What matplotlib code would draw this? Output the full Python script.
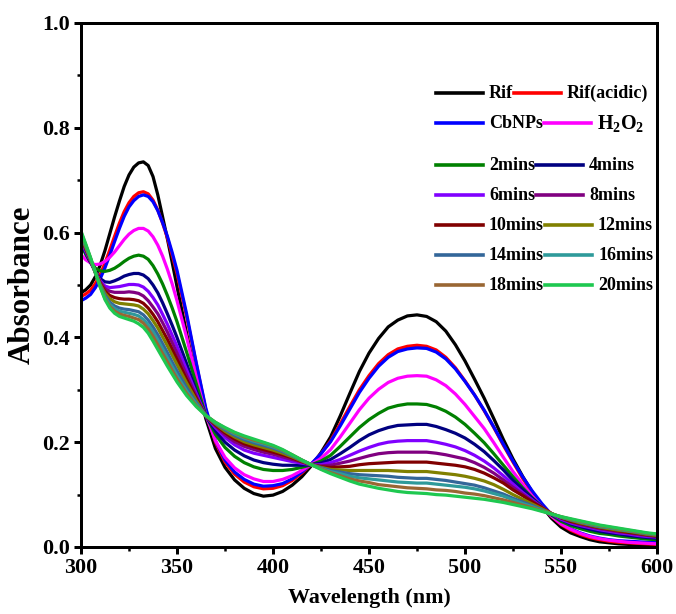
import numpy as np
import matplotlib
matplotlib.use("Agg")
import matplotlib.pyplot as plt
from matplotlib.lines import Line2D
from matplotlib.offsetbox import DrawingArea, TextArea, HPacker, VPacker, AnchoredOffsetbox
from matplotlib.ticker import MultipleLocator, FormatStrFormatter

plt.rcParams['font.family'] = 'Liberation Serif'
plt.rcParams['font.weight'] = 'bold'
plt.rcParams['mathtext.fontset'] = 'custom'
plt.rcParams['mathtext.rm'] = 'Liberation Serif:bold'
plt.rcParams['mathtext.it'] = 'Liberation Serif:bold'
plt.rcParams['mathtext.bf'] = 'Liberation Serif:bold'

# UV-Vis spectra: 2.5 nm steps up to 350 nm (sharp band), 5 nm steps after
wavelength = np.concatenate([np.arange(300, 350, 2.5), np.arange(350, 601, 5)])

rif = [0.485, 0.491, 0.500, 0.516, 0.538, 0.566, 0.598, 0.630, 0.660, 0.688,
       0.710, 0.725, 0.733, 0.735, 0.728, 0.707, 0.672, 0.630, 0.588, 0.543,
       0.497, 0.408, 0.322, 0.245, 0.188, 0.152, 0.128, 0.112, 0.102, 0.097,
       0.099, 0.106, 0.118, 0.134, 0.155, 0.180, 0.210, 0.250, 0.293, 0.335,
       0.370, 0.398, 0.420, 0.433, 0.441, 0.443, 0.440, 0.430, 0.412, 0.386,
       0.355, 0.320, 0.284, 0.245, 0.205, 0.168, 0.135, 0.105, 0.078, 0.055,
       0.038, 0.027, 0.020, 0.014, 0.010, 0.008, 0.006, 0.005, 0.004, 0.003, 0.003]
rif_acidic = [0.478, 0.483, 0.490, 0.503, 0.520, 0.542, 0.567, 0.593, 0.618, 0.640,
              0.657, 0.669, 0.676, 0.678, 0.674, 0.662, 0.643, 0.618, 0.590, 0.557,
              0.522, 0.440, 0.350, 0.262, 0.200, 0.162, 0.139, 0.124, 0.115, 0.111,
              0.112, 0.117, 0.127, 0.141, 0.158, 0.178, 0.203, 0.235, 0.268, 0.300,
              0.327, 0.350, 0.367, 0.378, 0.383, 0.385, 0.383, 0.376, 0.362, 0.342,
              0.317, 0.290, 0.260, 0.228, 0.194, 0.162, 0.131, 0.104, 0.080, 0.059,
              0.043, 0.032, 0.024, 0.018, 0.014, 0.011, 0.009, 0.008, 0.007, 0.006, 0.005]
cbnps = [0.470, 0.475, 0.482, 0.495, 0.512, 0.533, 0.557, 0.583, 0.608, 0.631,
         0.649, 0.661, 0.669, 0.672, 0.669, 0.659, 0.642, 0.619, 0.593, 0.562,
         0.528, 0.445, 0.352, 0.265, 0.203, 0.166, 0.143, 0.129, 0.120, 0.116,
         0.117, 0.121, 0.130, 0.143, 0.159, 0.178, 0.201, 0.231, 0.263, 0.295,
         0.322, 0.345, 0.362, 0.373, 0.378, 0.380, 0.379, 0.372, 0.359, 0.340,
         0.316, 0.290, 0.261, 0.229, 0.196, 0.164, 0.134, 0.107, 0.083, 0.062,
         0.046, 0.035, 0.027, 0.021, 0.017, 0.014, 0.012, 0.011, 0.010, 0.009, 0.009]
h2o2 = [0.558, 0.548, 0.542, 0.539, 0.540, 0.545, 0.553, 0.563, 0.575, 0.587,
        0.597, 0.604, 0.608, 0.608, 0.603, 0.592, 0.576, 0.555, 0.530, 0.502,
        0.470, 0.400, 0.325, 0.252, 0.203, 0.171, 0.151, 0.138, 0.130, 0.125,
        0.125, 0.129, 0.136, 0.146, 0.158, 0.169, 0.186, 0.210, 0.236, 0.262,
        0.284, 0.301, 0.314, 0.322, 0.326, 0.327, 0.326, 0.319, 0.308, 0.292,
        0.272, 0.249, 0.226, 0.199, 0.171, 0.144, 0.120, 0.097, 0.077, 0.059,
        0.044, 0.034, 0.026, 0.020, 0.016, 0.013, 0.011, 0.009, 0.008, 0.007, 0.006]
t2 = [0.578, 0.558, 0.543, 0.532, 0.527, 0.526, 0.528, 0.532, 0.538, 0.545,
      0.551, 0.555, 0.557, 0.555, 0.549, 0.537, 0.521, 0.502, 0.480, 0.456,
      0.430, 0.372, 0.312, 0.252, 0.215, 0.190, 0.173, 0.161, 0.153, 0.148,
      0.146, 0.146, 0.148, 0.152, 0.157, 0.164, 0.175, 0.192, 0.210, 0.228,
      0.243, 0.255, 0.265, 0.270, 0.273, 0.273, 0.272, 0.267, 0.259, 0.248,
      0.234, 0.217, 0.199, 0.178, 0.156, 0.134, 0.113, 0.094, 0.077, 0.061,
      0.049, 0.041, 0.035, 0.030, 0.026, 0.024, 0.021, 0.019, 0.017, 0.015, 0.014]
t4 = [0.582, 0.561, 0.543, 0.525, 0.512, 0.506, 0.505, 0.508, 0.512, 0.517,
      0.520, 0.522, 0.522, 0.519, 0.512, 0.500, 0.485, 0.466, 0.445, 0.423,
      0.400, 0.350, 0.298, 0.250, 0.222, 0.200, 0.185, 0.174, 0.166, 0.161,
      0.158, 0.156, 0.156, 0.156, 0.157, 0.160, 0.167, 0.178, 0.190, 0.203,
      0.214, 0.222, 0.228, 0.232, 0.233, 0.234, 0.234, 0.230, 0.224, 0.217,
      0.208, 0.196, 0.182, 0.165, 0.147, 0.127, 0.110, 0.093, 0.077, 0.062,
      0.052, 0.044, 0.039, 0.034, 0.030, 0.027, 0.025, 0.022, 0.020, 0.018, 0.017]
t6 = [0.586, 0.564, 0.545, 0.525, 0.508, 0.498, 0.495, 0.496, 0.497, 0.499,
      0.501, 0.501, 0.500, 0.496, 0.488, 0.476, 0.462, 0.444, 0.425, 0.404,
      0.383, 0.338, 0.293, 0.250, 0.228, 0.209, 0.195, 0.185, 0.179, 0.175,
      0.171, 0.167, 0.163, 0.160, 0.157, 0.157, 0.161, 0.167, 0.175, 0.183,
      0.190, 0.196, 0.200, 0.202, 0.203, 0.203, 0.203, 0.200, 0.196, 0.191,
      0.184, 0.175, 0.164, 0.151, 0.136, 0.120, 0.104, 0.090, 0.076, 0.063,
      0.053, 0.046, 0.041, 0.037, 0.033, 0.030, 0.027, 0.025, 0.022, 0.020, 0.019]
t8 = [0.589, 0.567, 0.546, 0.525, 0.506, 0.493, 0.488, 0.486, 0.486, 0.486,
      0.487, 0.486, 0.484, 0.479, 0.470, 0.458, 0.445, 0.428, 0.410, 0.390,
      0.370, 0.328, 0.288, 0.250, 0.231, 0.214, 0.201, 0.192, 0.186, 0.181,
      0.177, 0.172, 0.167, 0.162, 0.157, 0.155, 0.156, 0.160, 0.164, 0.169,
      0.174, 0.178, 0.180, 0.181, 0.181, 0.181, 0.181, 0.179, 0.176, 0.172,
      0.168, 0.161, 0.152, 0.141, 0.128, 0.114, 0.101, 0.088, 0.076, 0.064,
      0.055, 0.048, 0.043, 0.039, 0.035, 0.032, 0.029, 0.027, 0.024, 0.022, 0.020]
t10 = [0.592, 0.569, 0.547, 0.524, 0.503, 0.488, 0.480, 0.476, 0.474, 0.473,
       0.473, 0.472, 0.470, 0.465, 0.456, 0.444, 0.430, 0.413, 0.396, 0.377,
       0.358, 0.320, 0.284, 0.250, 0.233, 0.218, 0.206, 0.197, 0.191, 0.186,
       0.181, 0.176, 0.170, 0.163, 0.157, 0.153, 0.152, 0.153, 0.154, 0.157,
       0.159, 0.160, 0.161, 0.162, 0.162, 0.162, 0.162, 0.160, 0.158, 0.156,
       0.153, 0.148, 0.141, 0.132, 0.122, 0.109, 0.098, 0.086, 0.075, 0.064,
       0.056, 0.049, 0.045, 0.041, 0.037, 0.034, 0.031, 0.028, 0.026, 0.023, 0.021]
t12 = [0.595, 0.571, 0.548, 0.524, 0.501, 0.484, 0.474, 0.468, 0.465, 0.464,
       0.463, 0.462, 0.460, 0.454, 0.445, 0.432, 0.418, 0.401, 0.384, 0.366,
       0.348, 0.313, 0.280, 0.250, 0.235, 0.221, 0.210, 0.201, 0.195, 0.190,
       0.185, 0.179, 0.172, 0.164, 0.157, 0.152, 0.148, 0.147, 0.146, 0.146,
       0.146, 0.146, 0.146, 0.145, 0.144, 0.144, 0.144, 0.142, 0.140, 0.138,
       0.135, 0.131, 0.126, 0.119, 0.110, 0.100, 0.091, 0.082, 0.073, 0.064,
       0.057, 0.051, 0.046, 0.042, 0.038, 0.035, 0.032, 0.030, 0.027, 0.024, 0.022]
t14 = [0.597, 0.573, 0.549, 0.523, 0.499, 0.480, 0.467, 0.460, 0.456, 0.454,
       0.453, 0.451, 0.449, 0.443, 0.433, 0.420, 0.405, 0.388, 0.371, 0.353,
       0.336, 0.304, 0.276, 0.251, 0.236, 0.224, 0.213, 0.205, 0.199, 0.194,
       0.189, 0.182, 0.174, 0.165, 0.157, 0.151, 0.146, 0.143, 0.140, 0.138,
       0.137, 0.136, 0.135, 0.133, 0.132, 0.131, 0.131, 0.129, 0.127, 0.124,
       0.121, 0.118, 0.113, 0.107, 0.101, 0.093, 0.086, 0.079, 0.071, 0.063,
       0.057, 0.052, 0.048, 0.043, 0.039, 0.037, 0.034, 0.031, 0.028, 0.025, 0.023]
t16 = [0.599, 0.575, 0.550, 0.523, 0.498, 0.477, 0.463, 0.455, 0.450, 0.448,
       0.446, 0.444, 0.441, 0.434, 0.424, 0.411, 0.395, 0.378, 0.361, 0.344,
       0.327, 0.298, 0.273, 0.251, 0.237, 0.226, 0.216, 0.208, 0.202, 0.197,
       0.191, 0.184, 0.175, 0.166, 0.157, 0.150, 0.144, 0.140, 0.135, 0.132,
       0.130, 0.128, 0.126, 0.124, 0.123, 0.122, 0.122, 0.120, 0.118, 0.116,
       0.114, 0.111, 0.107, 0.102, 0.097, 0.090, 0.083, 0.077, 0.070, 0.063,
       0.057, 0.053, 0.048, 0.044, 0.040, 0.037, 0.034, 0.031, 0.029, 0.026, 0.024]
t18 = [0.601, 0.576, 0.551, 0.523, 0.497, 0.474, 0.459, 0.450, 0.445, 0.442,
       0.440, 0.437, 0.434, 0.427, 0.416, 0.402, 0.386, 0.369, 0.353, 0.337,
       0.321, 0.293, 0.270, 0.251, 0.238, 0.227, 0.218, 0.210, 0.204, 0.199,
       0.193, 0.185, 0.176, 0.166, 0.157, 0.149, 0.142, 0.136, 0.130, 0.126,
       0.123, 0.119, 0.117, 0.115, 0.113, 0.112, 0.111, 0.109, 0.108, 0.106,
       0.103, 0.101, 0.098, 0.094, 0.090, 0.085, 0.080, 0.075, 0.069, 0.063,
       0.058, 0.053, 0.049, 0.045, 0.041, 0.038, 0.035, 0.032, 0.029, 0.026, 0.024]
t20 = [0.603, 0.578, 0.552, 0.524, 0.496, 0.472, 0.456, 0.446, 0.440, 0.437,
       0.434, 0.431, 0.426, 0.419, 0.408, 0.393, 0.377, 0.361, 0.345, 0.330,
       0.315, 0.289, 0.268, 0.251, 0.238, 0.228, 0.219, 0.212, 0.206, 0.200,
       0.194, 0.186, 0.176, 0.166, 0.157, 0.148, 0.140, 0.133, 0.126, 0.120,
       0.116, 0.112, 0.109, 0.106, 0.104, 0.103, 0.102, 0.100, 0.099, 0.097,
       0.095, 0.093, 0.091, 0.088, 0.085, 0.081, 0.077, 0.073, 0.068, 0.063,
       0.058, 0.054, 0.050, 0.046, 0.042, 0.039, 0.036, 0.033, 0.030, 0.027, 0.025]

series = [rif, rif_acidic, cbnps, h2o2, t2, t4, t6, t8, t10, t12, t14, t16, t18, t20]
labels = ['Rif', 'Rif(acidic)', 'CbNPs', r'$\mathrm{H_2O_2}$', '2mins', '4mins', '6mins',
          '8mins', '10mins', '12mins', '14mins', '16mins', '18mins', '20mins']
colors = ['#000000', '#FF0000', '#0000FF', '#FF00FF', '#008000', '#000080', '#8000FF',
          '#800080', '#800000', '#808000', '#336699', '#2E9A9A', '#996633', '#1EC850']

fig = plt.figure(figsize=(676 / 72, 614 / 72), dpi=72)
ax = fig.add_axes([81 / 676, 67 / 614, 576 / 676, 524 / 614])

for y, c in zip(series, colors):
    ax.plot(wavelength, y, color=c, lw=3.2, solid_joinstyle='round')

ax.set_xlim(300, 600)
ax.set_ylim(0, 1.0)
ax.xaxis.set_major_locator(MultipleLocator(50))
ax.xaxis.set_minor_locator(MultipleLocator(25))
ax.yaxis.set_major_locator(MultipleLocator(0.2))
ax.yaxis.set_minor_locator(MultipleLocator(0.1))
ax.yaxis.set_major_formatter(FormatStrFormatter('%.1f'))
ax.tick_params(which='major', direction='out', length=7, width=3, labelsize=22, pad=4)
ax.tick_params(which='minor', direction='out', length=4, width=2.5)
for s in ax.spines.values():
    s.set_linewidth(3)

ax.set_xlabel('Wavelength (nm)', fontsize=22, fontweight='bold', labelpad=10)
ax.set_ylabel('Absorbance', fontsize=31, fontweight='bold', labelpad=5)

# two entries per row, flowing like inline line symbols
def handle(color):
    da = DrawingArea(54, 30, 0, 0)
    da.add_artist(Line2D([1, 48], [15, 15], color=color, lw=3.6))
    return da

rows = []
for i in range(0, len(labels), 2):
    items = []
    for j in (i, i + 1):
        items.append(handle(colors[j]))
        size = 20 if labels[j].startswith('$') else 18
        items.append(TextArea(labels[j], textprops=dict(fontsize=size, fontweight='bold')))
    rows.append(HPacker(children=items, align='center', pad=0, sep=0))
# extra room under the row with subscripts
rows.insert(2, DrawingArea(1, 12, 0, 0))
box = VPacker(children=rows, align='left', pad=0, sep=0)
anchored = AnchoredOffsetbox(loc='upper left', child=box, pad=0, borderpad=0, frameon=False,
                             bbox_to_anchor=(0.6146, 0.895), bbox_transform=ax.transAxes)
ax.add_artist(anchored)

fig.savefig('out.png', dpi=72)
